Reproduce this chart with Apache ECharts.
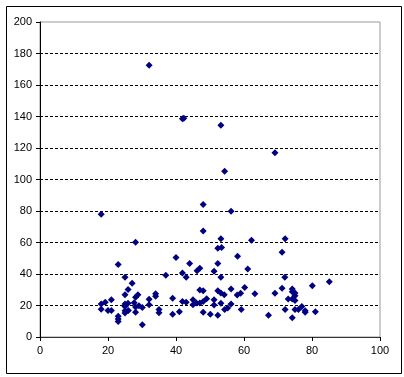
<!DOCTYPE html>
<html><head><meta charset="utf-8">
<script src="https://cdn.jsdelivr.net/npm/echarts@6/dist/echarts.min.js"></script>
<style>html,body{margin:0;padding:0;background:#fff}#c{width:404px;height:377px}</style>
</head><body><div id="c"></div>
<script>
const xTicks = [0, 20, 40, 60, 80, 100];
const yTicks = [0, 20, 40, 60, 80, 100, 120, 140, 160, 180, 200];
const xValues = [32.1,41.9,42.3,53.2,69.1,54.3,48,56.2,18,48,28.1,53.2,62.2,72.1,71.2,52.3,53.4,58.1,40,23,44,52.3,37,41.9,43,46.2,47,51.2,53.2,61.1,72,25,27.1,25.9,25,28.1,28.8,27.7,25.9,18,19.2,21,18,20,21,23,23,23,25,25,25,25,26,28.1,28.1,29.1,30.1,30.1,32.1,32.1,34,34,35,35,39,39,41,41.9,43,45,45,46,47,47,48,48,49,48,50.1,51.2,51.2,52.3,52.3,53.2,53.2,54.2,54.3,55.2,56.2,56.2,58,59,59.2,60.2,63.2,67.2,69.1,71.2,72.1,73,74.2,74.2,74.2,74.2,75,75,75,75,76,77,78,78,80.1,81,85.1];
const yValues = [172.5,138.6,138.9,134.4,117,105.2,84.2,79.8,77.9,67.3,60.1,62.4,61.4,62.4,53.8,56.3,56.9,51.2,50.4,46.1,46.6,46.6,39.2,40.6,37.9,42.1,43.6,41.7,37.9,43.2,37.9,37.9,34.1,30.1,26.9,25.2,26.9,21.8,21.4,21,22,23.7,17.6,16.9,16.9,13.1,11.4,9.9,21,19.3,16.7,15.2,16.9,19,15.7,19.9,18.8,7.8,23.9,20.5,27.5,25.8,17.4,15.4,24.6,14.4,16.1,22.6,22,23.7,20.5,21.6,21.6,29.8,29.4,22.6,24.3,15.7,14.4,23.7,20.3,29.4,13.8,27.9,21.4,26.9,17.4,18.4,30.5,21,26.7,27.7,17.4,31.5,27.5,13.8,27.7,30.9,17.4,24.1,30.5,28.8,24.1,12.3,27.9,26.2,23.1,17.4,17.4,19.3,15.7,16.7,32.6,16.1,35.1];
const points = xValues.map((x, i) => [x, yValues[i]]);
const chart = echarts.init(document.getElementById('c'), null, {renderer: 'canvas'});
const font = {fontFamily: 'Liberation Sans, Arial, sans-serif', fontSize: 11, color: '#000'};
chart.setOption({
  animation: false,
  backgroundColor: '#fff',
  graphic: [{type: 'rect', left: 4, top: 4, shape: {width: 395, height: 367}, style: {fill: 'none', stroke: '#000', lineWidth: 1}, silent: true, z: -1}],
  grid: {left: 40, right: 24, top: 22, bottom: 40, show: true, borderColor: '#999', borderWidth: 1, backgroundColor: '#fff'},
  xAxis: {
    type: 'value', min: xTicks[0], max: xTicks[xTicks.length - 1], interval: 20,
    axisLine: {show: true, lineStyle: {color: '#333', width: 1}},
    axisTick: {show: true, length: 4, lineStyle: {color: '#000'}},
    axisLabel: Object.assign({margin: 8}, font),
    splitLine: {show: false}
  },
  yAxis: {
    type: 'value', min: yTicks[0], max: yTicks[yTicks.length - 1], interval: 20,
    axisLine: {show: true, lineStyle: {color: '#000', width: 1}},
    axisTick: {show: true, length: 4, lineStyle: {color: '#000'}},
    axisLabel: Object.assign({margin: 8}, font),
    splitLine: {show: true, showMinLine: false, showMaxLine: false, lineStyle: {color: '#000', type: [3, 2], width: 1}}
  },
  series: [{
    type: 'scatter', data: points, symbol: 'diamond', symbolSize: 7,
    itemStyle: {color: '#000080', opacity: 1}
  }]
});
</script></body></html>
